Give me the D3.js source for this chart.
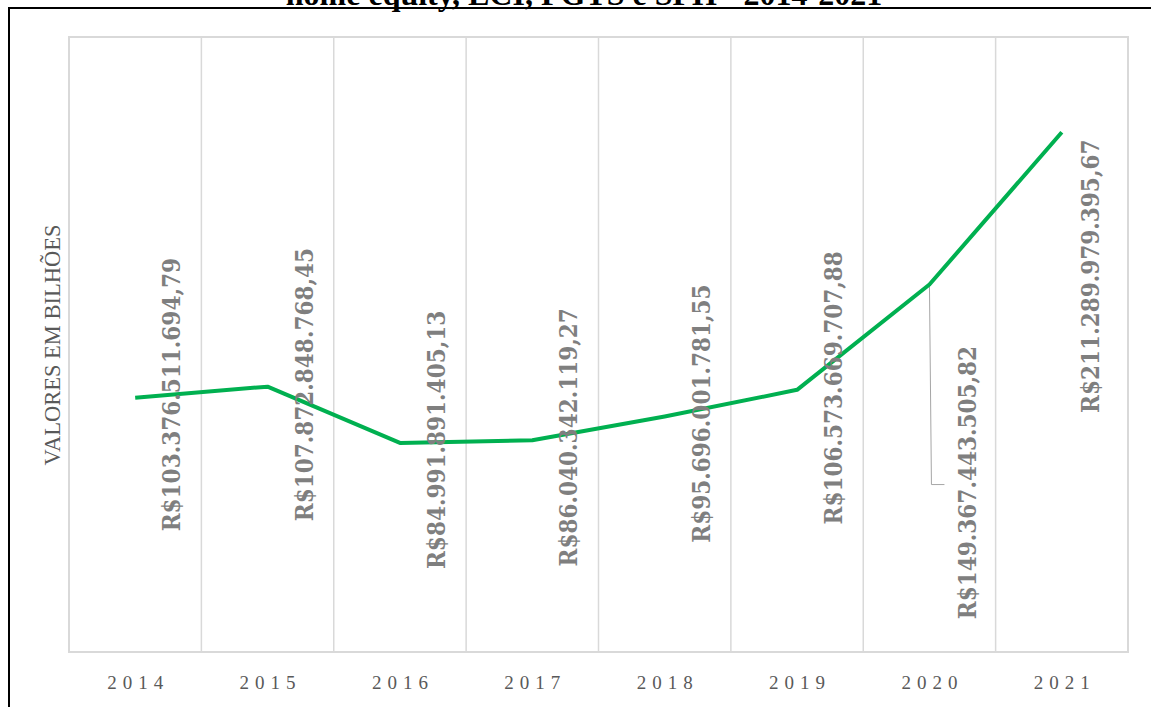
<!DOCTYPE html>
<html>
<head>
<meta charset="utf-8">
<script src="https://cdn.jsdelivr.net/npm/d3@7"></script>
<style>
  body { margin: 0; background: #fff; }
  svg { display: block; }
</style>
</head>
<body>
<svg id="chart" width="1151" height="707"></svg>
<script>
// anos e valores (bilhões de R$)
var years = ["2014", "2015", "2016", "2017", "2018", "2019", "2020", "2021"];
var values = [103.37651169479, 107.87284876845, 84.99189140513, 86.04034211927,
  95.69600178155, 106.57366970788, 149.36744350582, 211.28997939567];
var valueLabels = [
  "R$103.376.511.694,79",
  "R$107.872.848.768,45",
  "R$84.991.891.405,13",
  "R$86.040.342.119,27",
  "R$95.696.001.781,55",
  "R$106.573.669.707,88",
  "R$149.367.443.505,82",
  "R$211.289.979.395,67",
];
var yDomain = [0, 250];

var svg = d3.select("#chart");
var margin = { top: 37, right: 23, bottom: 55, left: 69 };
var width = 1151 - margin.left - margin.right;
var height = 707 - margin.top - margin.bottom;

// moldura preta (recortada)
svg.append("line").attr("x1", 8).attr("x2", 1151).attr("y1", 8).attr("y2", 8)
  .attr("stroke", "#000").attr("stroke-width", 2);
svg.append("line").attr("x1", 9).attr("x2", 9).attr("y1", 7).attr("y2", 707)
  .attr("stroke", "#000").attr("stroke-width", 2);

// título cortado no topo, como no original
svg.append("text")
  .attr("x", 584)
  .attr("y", 5)
  .attr("text-anchor", "middle")
  .attr("font-family", "Liberation Serif, serif")
  .attr("font-weight", "bold")
  .attr("font-size", "32px")
  .attr("fill", "#000")
  .text("home equity, LCI, FGTS e SFH - 2014-2021");

var g = svg.append("g")
  .attr("transform", "translate(" + margin.left + "," + margin.top + ")");

var x = d3.scaleBand().domain(years).range([0, width]).padding(0);
var y = d3.scaleLinear().domain(yDomain).range([height, 0]);

// grade vertical
g.selectAll(".vgrid")
  .data(years.slice(1))
  .enter()
  .append("line")
  .attr("x1", function (d) { return x(d); })
  .attr("x2", function (d) { return x(d); })
  .attr("y1", 0)
  .attr("y2", height)
  .attr("stroke", "#d9d9d9")
  .attr("stroke-width", 1.5);

g.append("rect")
  .attr("x", 0).attr("y", 0)
  .attr("width", width).attr("height", height)
  .attr("fill", "none")
  .attr("stroke", "#d9d9d9")
  .attr("stroke-width", 2);

// eixo x
var xAxis = g.append("g")
  .attr("transform", "translate(0," + height + ")")
  .call(d3.axisBottom(x).tickSize(0).tickPadding(24));
xAxis.select(".domain").remove();
xAxis.selectAll("text")
  .attr("font-family", "Liberation Serif, serif")
  .attr("font-size", "19px")
  .attr("fill", "#595959")
  .attr("letter-spacing", "6px")
  .attr("dx", "3px");

// título do eixo y
svg.append("text")
  .attr("transform", "translate(60,345) rotate(-90)")
  .attr("text-anchor", "middle")
  .attr("font-family", "Liberation Serif, serif")
  .attr("font-size", "22.5px")
  .attr("fill", "#595959")
  .text("VALORES EM BILHÕES");

// linha
var line = d3.line()
  .x(function (d, i) { return x(years[i]) + x.bandwidth() / 2; })
  .y(function (d) { return y(d); });

// deslocamento manual dos rótulos (px): [dx da linha de base, dy do centro]
var labelShift = [[45, -3], [45, -2], [45, -3], [45, -3], [45, -3], [45, -2], [47, 198], [37, 144]];

// linha de chamada do rótulo de 2020
var p20x = x("2020") + x.bandwidth() / 2;
var p20y = y(values[6]);
g.append("path")
  .attr("d", "M" + p20x + "," + p20y + " L" + (p20x + 2) + "," + (p20y + 200) + " L" + (p20x + 15) + "," + (p20y + 200))
  .attr("fill", "none")
  .attr("stroke", "#a6a6a6")
  .attr("stroke-width", 1);

g.append("path")
  .datum(values)
  .attr("d", line)
  .attr("fill", "none")
  .attr("stroke", "#00b050")
  .attr("stroke-width", 4)
  .attr("stroke-linejoin", "round");

g.selectAll(".vlabel")
  .data(values)
  .enter()
  .append("text")
  .attr("transform", function (d, i) {
    var px = x(years[i]) + x.bandwidth() / 2 + labelShift[i][0];
    var py = y(d) + labelShift[i][1];
    return "translate(" + px + "," + py + ") rotate(-90)";
  })
  .attr("text-anchor", "middle")
  .attr("font-family", "DejaVu Serif Condensed, DejaVu Serif, serif")
  .attr("font-stretch", "condensed")
  .attr("font-weight", "bold")
  .attr("font-size", "24px")
  .attr("fill", "#7f7f7f")
  .text(function (d, i) { return valueLabels[i]; });
</script>
</body>
</html>
